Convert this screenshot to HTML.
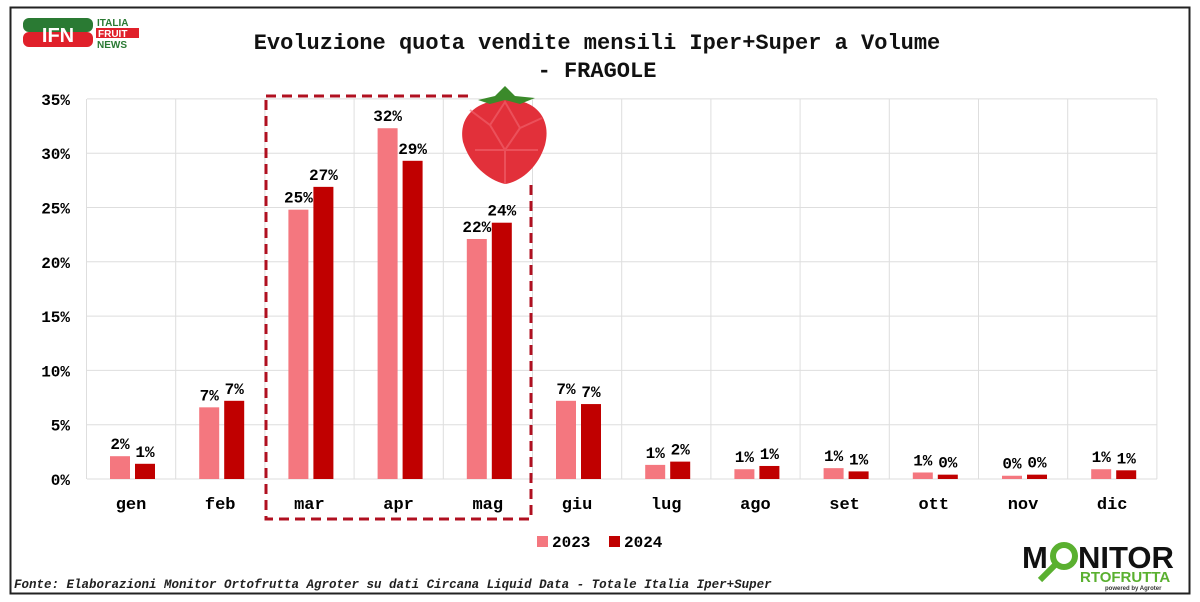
<!DOCTYPE html><html><head><style>body{margin:0;background:#fff}svg{display:block}text{font-family:"Liberation Mono",monospace;font-weight:bold}</style></head><body>
<svg id="s" width="1200" height="602" xmlns="http://www.w3.org/2000/svg">
<rect x="0" y="0" width="1200" height="602" fill="#fff"/>
<rect x="10.5" y="7.5" width="1179" height="586" fill="none" stroke="#222" stroke-width="2"/>
<g id="grid" stroke="#dedede" stroke-width="1"></g>
<text x="597" y="49" font-size="22" text-anchor="middle" fill="#111">Evoluzione quota vendite mensili Iper+Super a Volume</text>
<text x="597" y="77" font-size="22" text-anchor="middle" fill="#111">- FRAGOLE</text>
<g id="bars"></g>
<path d="M266 96 H470 M531 185 V519 H266 V96" fill="none" stroke="#b01020" stroke-width="3" stroke-dasharray="10,6"/>
<g>
<path d="M505 100 C535 98 552 118 545 145 C538 168 520 182 505 184 C488 180 470 165 463 142 C458 118 475 100 505 100Z" fill="#e2303a"/>
<path d="M470 110 L490 125 L505 102 L520 128 L542 118 M490 125 L505 150 L520 128 M505 150 L505 184 M475 150 L505 150 L538 150" stroke="#f26670" stroke-width="2" fill="none" opacity="0.6"/>
<path d="M478 100 L495 96 L505 86 L515 96 L535 98 L520 104 L505 100 L490 104Z" fill="#3b8a2a"/>
</g>
<rect x="537" y="536" width="11" height="11" fill="#f4777f"/><text x="552" y="547" font-size="16">2023</text>
<rect x="609" y="536" width="11" height="11" fill="#c00000"/><text x="624" y="547" font-size="16">2024</text>
<text x="14" y="588" font-size="12.5" font-style="italic" font-weight="normal" fill="#222">Fonte: Elaborazioni Monitor Ortofrutta Agroter su dati Circana Liquid Data - Totale Italia Iper+Super</text>
<g>
<rect x="23" y="18" width="70" height="14" rx="6" fill="#2a7a33"/>
<rect x="23" y="32" width="70" height="15" rx="6" fill="#e0202a"/>
<text x="58" y="42" font-size="20" text-anchor="middle" fill="#fff" style="font-family:'Liberation Sans',sans-serif">IFN</text>
<text x="97" y="26" font-size="10" fill="#2a7a33" style="font-family:'Liberation Sans',sans-serif">ITALIA</text>
<rect x="96" y="28" width="43" height="10" fill="#e0202a"/>
<text x="98" y="37" font-size="10" fill="#fff" style="font-family:'Liberation Sans',sans-serif">FRUIT</text>
<text x="97" y="48" font-size="10" fill="#2a7a33" style="font-family:'Liberation Sans',sans-serif">NEWS</text>
</g>
<g>
<text x="1022" y="568" font-size="31" fill="#111" style="font-family:'Liberation Sans',sans-serif;font-weight:900">M</text>
<circle cx="1064" cy="556" r="11" fill="none" stroke="#5ab030" stroke-width="6"/>
<line x1="1056" y1="564" x2="1040" y2="580" stroke="#5ab030" stroke-width="6"/>
<text x="1078" y="568" font-size="31" fill="#111" style="font-family:'Liberation Sans',sans-serif;font-weight:900">NITOR</text>
<text x="1080" y="582" font-size="15" fill="#5ab030" style="font-family:'Liberation Sans',sans-serif;font-weight:900">RTOFRUTTA</text>
<text x="1105" y="590" font-size="6" fill="#333" style="font-family:'Liberation Sans',sans-serif">powered by Agroter</text>
</g>
</svg>
<script>
var s=document.getElementById('bars'),g=document.getElementById('grid'),ns='http://www.w3.org/2000/svg';
function el(p,t,a,tx){var e=document.createElementNS(ns,t);for(var k in a)e.setAttribute(k,a[k]);if(tx!=null)e.textContent=tx;p.appendChild(e);return e;}
var y0=479,k=10.86;
for(var i=0;i<=7;i++){var y=y0-i*5*k;el(g,'line',{x1:87,x2:1157,y1:y,y2:y});el(s,'text',{x:70,y:y+6,'font-size':16,'text-anchor':'end'},(i*5)+'%');}
for(var i=0;i<=12;i++){var x=86.5+89.2*i;el(g,'line',{x1:x,x2:x,y1:99,y2:479});}
var m=['gen','feb','mar','apr','mag','giu','lug','ago','set','ott','nov','dic'];
var a=[2.1,6.6,24.8,32.3,22.1,7.2,1.3,0.9,1.0,0.6,0.3,0.9],b=[1.4,7.2,26.9,29.3,23.6,6.9,1.6,1.2,0.7,0.4,0.4,0.8];
for(var i=0;i<12;i++){var c=131+89.2*i;
[[a[i],c-21,'#f4777f'],[b[i],c+4,'#c00000']].forEach(function(d){var h=d[0]*k;el(s,'rect',{x:d[1],y:y0-h,width:20,height:h,fill:d[2]});el(s,'text',{x:d[1]+10,y:y0-h-7,'font-size':16,'text-anchor':'middle'},Math.round(d[0])+'%');});
el(s,'text',{x:c,y:509,'font-size':17,'text-anchor':'middle'},m[i]);}
</script>
</body></html>
